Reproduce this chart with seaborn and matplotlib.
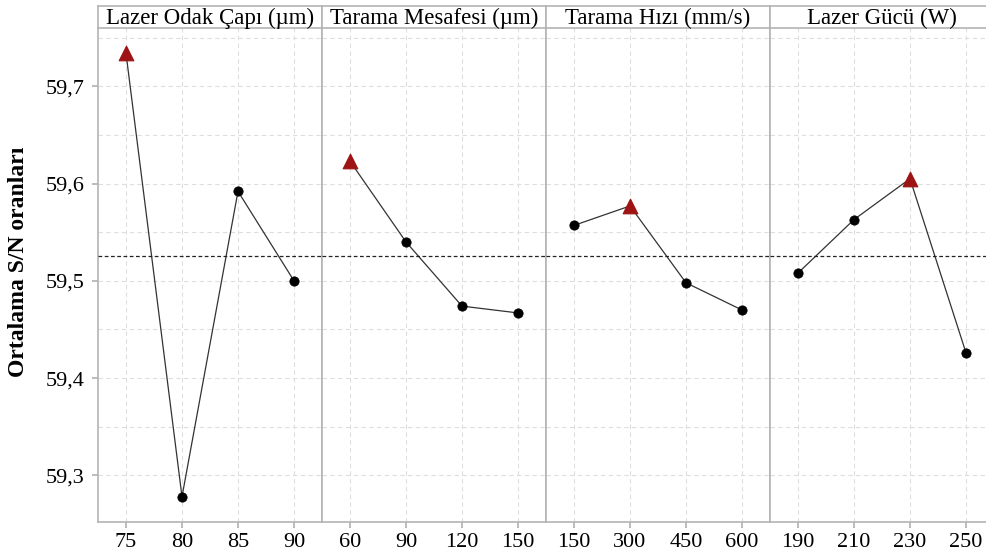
import numpy as np
import pandas as pd
import matplotlib.pyplot as plt
import seaborn as sns
from matplotlib.ticker import MultipleLocator, FuncFormatter

# Data (S/N ratios per factor level)
factors = ["Lazer Odak Çapı (µm)", "Tarama Mesafesi (µm)", "Tarama Hızı (mm/s)", "Lazer Gücü (W)"]
levels_odak = ["75", "80", "85", "90"]
levels_mesafe = ["60", "90", "120", "150"]
levels_hiz = ["150", "300", "450", "600"]
levels_guc = ["190", "210", "230", "250"]
sn_odak = [59.734, 59.278, 59.592, 59.500]
sn_mesafe = [59.623, 59.540, 59.474, 59.467]
sn_hiz = [59.557, 59.577, 59.498, 59.470]
sn_guc = [59.508, 59.563, 59.605, 59.426]
overall_mean = 59.526

levels = [levels_odak, levels_mesafe, levels_hiz, levels_guc]
values = [sn_odak, sn_mesafe, sn_hiz, sn_guc]

sns.set_theme(style="white")
plt.rcParams['font.family'] = ['Liberation Serif', 'DejaVu Serif']
plt.rcParams['text.color'] = 'black'
plt.rcParams['axes.labelcolor'] = 'black'
plt.rcParams['xtick.color'] = 'black'
plt.rcParams['ytick.color'] = 'black'

border = "#b4b4b4"
red = "#9e1414"

fig = plt.figure(figsize=(9.87, 5.57), dpi=100)
W, H = 987, 557
left_px, pw = 98, 224
top_px, bot_px, head_px = 28, 522, 6

for i, (name, lv, vals) in enumerate(zip(factors, levels, values)):
    x0 = (left_px + i * pw) / W
    ax = fig.add_axes([x0, 1 - bot_px / H, pw / W, (bot_px - top_px) / H])
    df = pd.DataFrame({"pos": np.arange(len(lv)), "sn": vals})
    best = int(np.argmax(vals))
    sns.lineplot(data=df, x="pos", y="sn", ax=ax, color="#333333", lw=0.9)
    others = df.drop(index=best)
    sns.scatterplot(data=others, x="pos", y="sn", ax=ax, color="black", s=45,
                    marker="o", edgecolor="black", zorder=5)
    sns.scatterplot(data=df.iloc[[best]], x="pos", y="sn", ax=ax, color=red, s=110,
                    marker="^", edgecolor=red, zorder=5)
    ax.axhline(overall_mean, color="#222222", ls=(0, (3, 2)), lw=0.9, zorder=3)

    ax.set_xlim(-0.5, 3.5)
    ax.set_ylim(59.252, 59.76)
    ax.set_xticks(range(len(lv)))
    ax.set_xticklabels(lv)
    ax.yaxis.set_major_locator(MultipleLocator(0.1))
    ax.yaxis.set_minor_locator(MultipleLocator(0.05))
    ax.yaxis.set_major_formatter(FuncFormatter(lambda v, p: f"{v:.1f}".replace(".", ",")))
    ax.grid(True, which="both", color="#dedede", ls=(0, (4, 3)), lw=0.8)
    ax.set_axisbelow(True)
    ax.tick_params(axis="x", bottom=True, length=4, color=border, labelcolor="black",
                   labelsize=16, pad=4)
    ax.tick_params(axis="y", which="minor", length=0)
    if i == 0:
        ax.tick_params(axis="y", which="major", left=True, length=4, color=border,
                       labelcolor="black", labelsize=16, pad=6)
    else:
        ax.tick_params(axis="y", left=False, labelleft=False)
    ax.set_ylabel("")
    ax.set_xlabel("")
    for s in ax.spines.values():
        s.set_color(border)
        s.set_linewidth(1.2)
    ax.spines["top"].set_visible(False)

    # header strip
    hx = fig.add_axes([x0, 1 - top_px / H, pw / W, (top_px - head_px) / H])
    hx.set_xticks([])
    hx.set_yticks([])
    hx.set_facecolor("white")
    for s in hx.spines.values():
        s.set_color(border)
        s.set_linewidth(1.2)
    hx.text(0.5, 0.45, name, ha="center", va="center", fontsize=16.5, color="black",
            transform=hx.transAxes)

fig.text(19 / W, 1 - 262 / H, "Ortalama S/N oranları", rotation=90, ha="center",
         va="center", fontsize=17, fontweight="bold", color="black")

fig.savefig("out.png", dpi=100)
